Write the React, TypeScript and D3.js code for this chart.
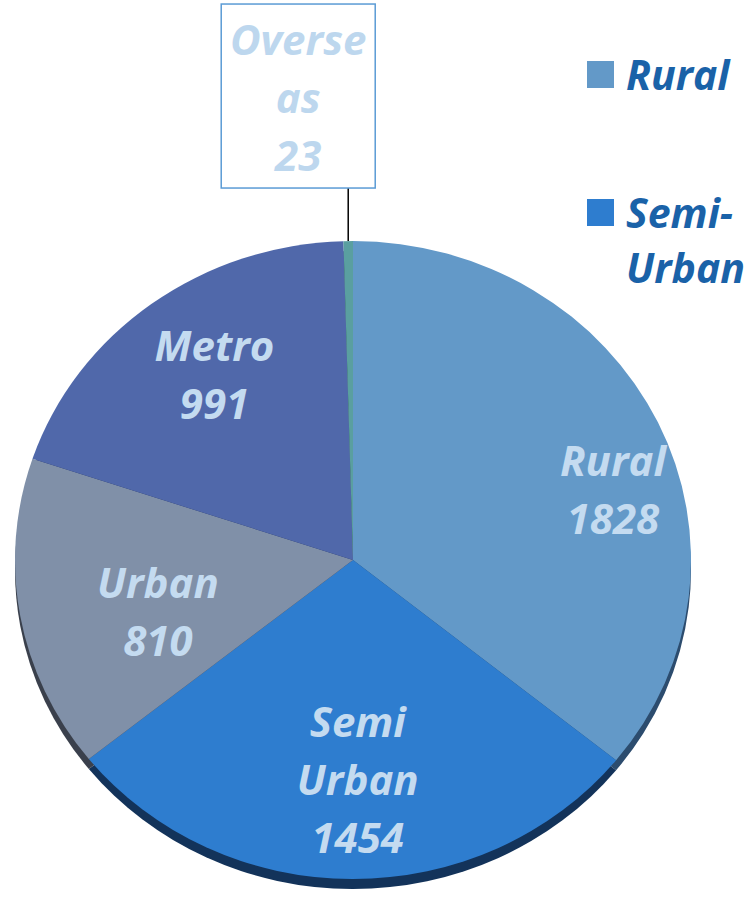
import React from 'react';
import * as d3 from 'd3';

const categories = ['Rural', 'Semi Urban', 'Urban', 'Metro', 'Overseas'];
const values = [1828, 1454, 810, 991, 23];
const sliceColors = ['#6399c8', '#2e7dcf', '#8090a8', '#5068aa', '#5a9fa0'];
const sideColors = ['#2c4c6e', '#13335a', '#3a404c', '#243460', '#284c4c'];
const labelLines = [['Rural', '1828'], ['Semi', 'Urban', '1454'], ['Urban', '810'], ['Metro', '991'], ['Overse', 'as', '23']];
const legendLines = [['Rural'], ['Semi-', 'Urban']];

const W = 754;
const H = 904;
const CX = 353;
const CY = 560;
const RX = 338;
const RY = 319;
const DEPTH = 10;
const FONT = "'Open Sans', 'Noto Sans', sans-serif";
const LABEL_SIZE = 42;
const LINE_H = 58;
// label placement tweaks (radius factor, angle shift in degrees)
const labelRadius = [0.8, 0.69, 0.6, 0.71];
const labelShift = [9.6, -1.3, -5.8, 1.3];

export default function App() {
  const pie = d3.pie<number>().sort(null).value((d) => d)(values);
  const arc = d3.arc<d3.PieArcDatum<number>>().innerRadius(0).outerRadius(RX);
  const sy = RY / RX;
  const pt = (a: number, r: number) => [CX + r * Math.sin(a), CY - r * Math.cos(a) * sy];

  const ov = pie[4];
  const ovMid = (ov.startAngle + ov.endAngle) / 2;
  const [lx, ly] = pt(ovMid, RX);
  const boxW = 154;
  const boxH = 184;
  const boxCx = lx - 50;
  const boxBottom = ly - 53;
  const boxTop = boxBottom - boxH;

  return (
    <svg width={W} height={H} style={{ position: 'absolute', left: 0, top: 0, background: '#fff' }}>
      <g transform={`translate(${CX},${CY + DEPTH}) scale(1,${sy})`}>
        {pie.map((p, i) => (
          <path key={'s' + i} d={arc(p) as string} fill={sideColors[i]} />
        ))}
      </g>
      <g transform={`translate(${CX},${CY}) scale(1,${sy})`}>
        {pie.map((p, i) => (
          <path key={'t' + i} d={arc(p) as string} fill={sliceColors[i]} />
        ))}
      </g>
      {pie.slice(0, 4).map((p, i) => {
        const mid = (p.startAngle + p.endAngle) / 2 + (labelShift[i] * Math.PI) / 180;
        const [x, y] = pt(mid, labelRadius[i] * RX);
        const lines = labelLines[i];
        return (
          <text key={'l' + i} x={x} textAnchor="middle" fontFamily={FONT} fontWeight="bold" fontStyle="italic" fontSize={LABEL_SIZE} fill="#c4dbf0">
            {lines.map((t, k) => (
              <tspan key={k} x={x} y={y + (k - (lines.length - 1) / 2) * LINE_H + 15}>{t}</tspan>
            ))}
          </text>
        );
      })}
      <line x1={lx} y1={ly} x2={lx} y2={boxBottom} stroke="#000" strokeWidth={1.5} />
      <rect x={boxCx - boxW / 2} y={boxTop} width={boxW} height={boxH} fill="#fff" stroke="#5b9bd5" strokeWidth={1.5} />
      <text textAnchor="middle" fontFamily={FONT} fontWeight="bold" fontStyle="italic" fontSize={LABEL_SIZE} fill="#bdd7ee">
        {labelLines[4].map((t, k) => (
          <tspan key={k} x={boxCx} y={boxTop + boxH / 2 + (k - 1) * LINE_H + 17}>{t}</tspan>
        ))}
      </text>
      {legendLines.map((lines, i) => (
        <g key={'lg' + i} transform={`translate(587,${61 + i * 138})`}>
          <rect x={0} y={0} width={27} height={27} fill={sliceColors[i]} />
          <text fontFamily={FONT} fontWeight="bold" fontStyle="italic" fontSize={41} fill="#1a62a8">
            {lines.map((t, k) => (
              <tspan key={k} x={39} y={29 + k * 55}>{t}</tspan>
            ))}
          </text>
        </g>
      ))}
    </svg>
  );
}
